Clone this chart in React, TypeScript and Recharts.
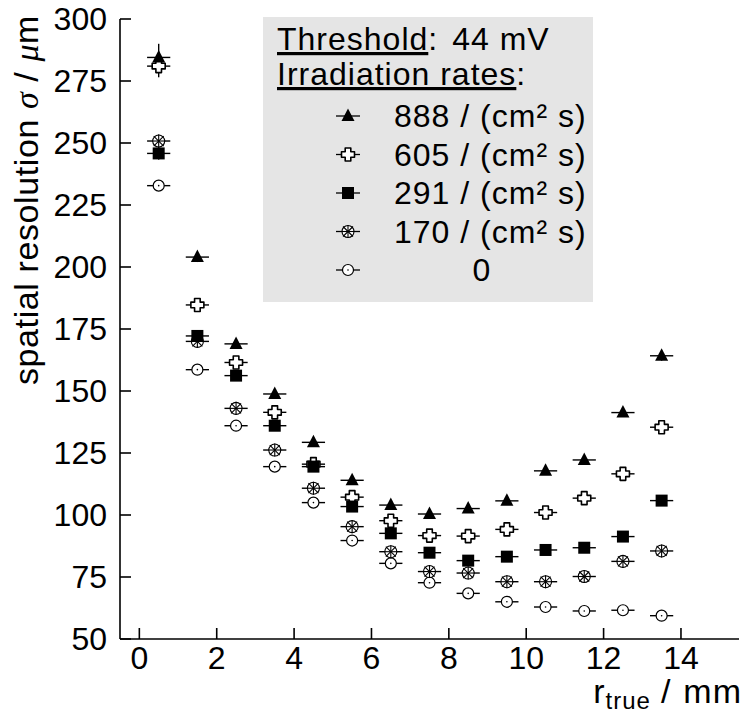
import { ScatterChart, Scatter, XAxis, YAxis, ErrorBar } from "recharts"

// r_true bin centres (mm)
const rTrue = [0.5, 1.5, 2.5, 3.5, 4.5, 5.5, 6.5, 7.5, 8.5, 9.5, 10.5, 11.5, 12.5, 13.5]

// spatial resolution sigma (um) per irradiation rate
const sigma888 = [284.5, 204, 169, 148.8, 129.3, 114, 104, 100.4, 102.6, 105.7, 117.8, 122.2, 141.3, 164.2]
const sigma605 = [281, 184.7, 161.5, 141.4, 120.5, 107.2, 97.7, 91.7, 91.5, 94.2, 101, 106.8, 116.6, 135.4]
const sigma291 = [245.8, 172.2, 156.2, 136, 119.5, 103.4, 92.6, 84.8, 81.6, 83.2, 85.9, 86.8, 91.3, 105.8]
const sigma170 = [250.8, 170, 143, 126.2, 110.8, 95.3, 85.2, 77.2, 76.6, 73.1, 73.1, 75.2, 81.3, 85.5]
const sigma0 = [232.8, 158.6, 136, 119.5, 105, 89.7, 80.5, 72.7, 68.4, 65, 62.9, 61.3, 61.6, 59.4]

// statistical errors (um)
const err888 = [5.5, 2, 1.5, 1.5, 1.5, 1.2, 1, 1, 1, 1, 1.2, 1.2, 1.5, 2]
const err605 = [4.5, 1.5, 1.2, 1.2, 1, 1, 1, 1, 1, 1, 1, 1, 1.2, 1.5]
const err291 = [2.5, 1.2, 1, 1, 1, 1, 1, 1, 1, 1, 1, 1, 1, 1.2]
const err170 = [2.5, 1.2, 1, 1, 1, 1, 1, 1, 1, 1, 1, 1, 1, 1]
const err0 = [2, 1, 1, 1, 1, 1, 1, 1, 1, 1, 1, 1, 1, 1]

const xErr = 0.3

const xTicks = [0, 2, 4, 6, 8, 10, 12, 14]
const yTicks = [50, 75, 100, 125, 150, 175, 200, 225, 250, 275, 300]

const FONT = "'Liberation Sans', Arial, sans-serif"
const SERIF = "'Liberation Serif', 'DejaVu Serif', serif"

type MP = { cx?: number; cy?: number }

const FilledTriangle = ({ cx = 0, cy = 0 }: MP) => (
  <polygon points={`${cx},${cy - 7.5} ${cx - 6.5},${cy + 5} ${cx + 6.5},${cy + 5}`} fill="#000" />
)

const OpenCross = ({ cx = 0, cy = 0 }: MP) => {
  const a = 2.8
  const s = 6.5
  const pts = [
    [-a, -s], [a, -s], [a, -a], [s, -a], [s, a], [a, a],
    [a, s], [-a, s], [-a, a], [-s, a], [-s, -a], [-a, -a],
  ]
    .map(([x, y]) => `${cx + x},${cy + y}`)
    .join(" ")
  return <polygon points={pts} fill="#fff" stroke="#000" strokeWidth={1.6} strokeLinejoin="round" />
}

const FilledSquare = ({ cx = 0, cy = 0 }: MP) => <rect x={cx - 6} y={cy - 6} width={12} height={12} fill="#000" />

const StarCircle = ({ cx = 0, cy = 0 }: MP) => (
  <g stroke="#000" strokeWidth={1.1}>
    <circle cx={cx} cy={cy} r={6} fill="#fff" />
    <line x1={cx - 6.5} y1={cy} x2={cx + 6.5} y2={cy} />
    <line x1={cx} y1={cy - 6.5} x2={cx} y2={cy + 6.5} />
    <line x1={cx - 5} y1={cy - 5} x2={cx + 5} y2={cy + 5} />
    <line x1={cx - 5} y1={cy + 5} x2={cx + 5} y2={cy - 5} />
  </g>
)

const DotCircle = ({ cx = 0, cy = 0 }: MP) => (
  <g>
    <circle cx={cx} cy={cy} r={5.5} fill="#fff" stroke="#000" strokeWidth={1.2} />
    <circle cx={cx} cy={cy} r={0.8} fill="#000" />
  </g>
)

const build = (vals: number[], errs: number[]) =>
  rTrue.map((x, i) => ({ x, y: vals[i], ex: xErr, ey: errs[i] }))

// drawing order: last one on top
const series = [
  { name: "0", data: build(sigma0, err0), Shape: DotCircle },
  { name: "170", data: build(sigma170, err170), Shape: StarCircle },
  { name: "605", data: build(sigma605, err605), Shape: OpenCross },
  { name: "291", data: build(sigma291, err291), Shape: FilledSquare },
  { name: "888", data: build(sigma888, err888), Shape: FilledTriangle },
]

const legendRows = [
  { label: "888 / (cm² s)", Shape: FilledTriangle },
  { label: "605 / (cm² s)", Shape: OpenCross },
  { label: "291 / (cm² s)", Shape: FilledSquare },
  { label: "170 / (cm² s)", Shape: StarCircle },
  { label: "0", Shape: DotCircle },
]

const axisStyle = { stroke: "#000", strokeWidth: 1.6 }
const tickStyle = { fill: "#000", fontSize: 32, fontFamily: FONT }

export default function App() {
  return (
    <div style={{ position: "absolute", left: 0, top: 0, width: 745, height: 713, background: "#fff" }}>
      <ScatterChart width={745} height={713} margin={{ top: 19, right: 6, bottom: 0, left: 0 }}>
        <XAxis
          type="number"
          dataKey="x"
          domain={[-0.5, 15.5]}
          ticks={xTicks}
          interval={0}
          height={74}
          tickSize={-11}
          tickMargin={18}
          axisLine={axisStyle}
          tickLine={axisStyle}
          tick={tickStyle}
          allowDataOverflow
        />
        <YAxis
          type="number"
          dataKey="y"
          domain={[50, 300]}
          ticks={yTicks}
          interval={0}
          width={120}
          tickSize={-11}
          tickMargin={24}
          axisLine={axisStyle}
          tickLine={axisStyle}
          tick={tickStyle}
          allowDataOverflow
        />
        {series.map(({ name, data, Shape }) => (
          <Scatter key={name} name={name} data={data} isAnimationActive={false} shape={(p: any) => <Shape cx={p.cx} cy={p.cy} />}>
            <ErrorBar dataKey="ex" direction="x" width={0} stroke="#000" strokeWidth={1.4} />
            <ErrorBar dataKey="ey" direction="y" width={0} stroke="#000" strokeWidth={1.4} />
          </Scatter>
        ))}
      </ScatterChart>

      {/* axis titles and the legend box */}
      <svg width={745} height={713} style={{ position: "absolute", left: 0, top: 0, pointerEvents: "none" }}>
        <text
          x={38}
          y={15}
          transform="rotate(-90, 38, 15)"
          textAnchor="end"
          fontFamily={FONT}
          fontSize={34}
          letterSpacing={0.6}
          fill="#000"
        >
          spatial resolution <tspan fontFamily={SERIF} fontStyle="italic">σ</tspan>
          <tspan dx={10}>/</tspan>
          <tspan dx={10} fontFamily={SERIF} fontStyle="italic">μ</tspan>m
        </text>

        <text x={742} y={703} textAnchor="end" fontFamily={FONT} fontSize={34} letterSpacing={1} fill="#000">
          r<tspan fontSize={24} dy={6}>true</tspan>
          <tspan dy={-6} dx={10}>/</tspan>
          <tspan dx={12}>mm</tspan>
        </text>

        <rect x={263} y={17} width={330} height={285} fill="#e5e5e5" />
        <g fontFamily={FONT} fontSize={32} letterSpacing={1} fill="#000">
          <text x={277} y={50}>
            <tspan style={{ textDecoration: "underline" }}>Threshold</tspan>:<tspan dx={14}>44 mV</tspan>
          </text>
          <text x={277} y={85}>
            <tspan style={{ textDecoration: "underline" }}>Irradiation rates</tspan>:
          </text>
          {legendRows.map(({ label, Shape }, i) => {
            const cy = 116 + i * 38.5
            return (
              <g key={label}>
                <line x1={336} y1={cy} x2={360} y2={cy} stroke="#000" strokeWidth={1.3} />
                <Shape cx={348} cy={cy} />
                {label === "0" ? (
                  <text x={482} y={cy + 11} textAnchor="middle">
                    {label}
                  </text>
                ) : (
                  <text x={394} y={cy + 11}>
                    {label}
                  </text>
                )}
              </g>
            )
          })}
        </g>
      </svg>
    </div>
  )
}
